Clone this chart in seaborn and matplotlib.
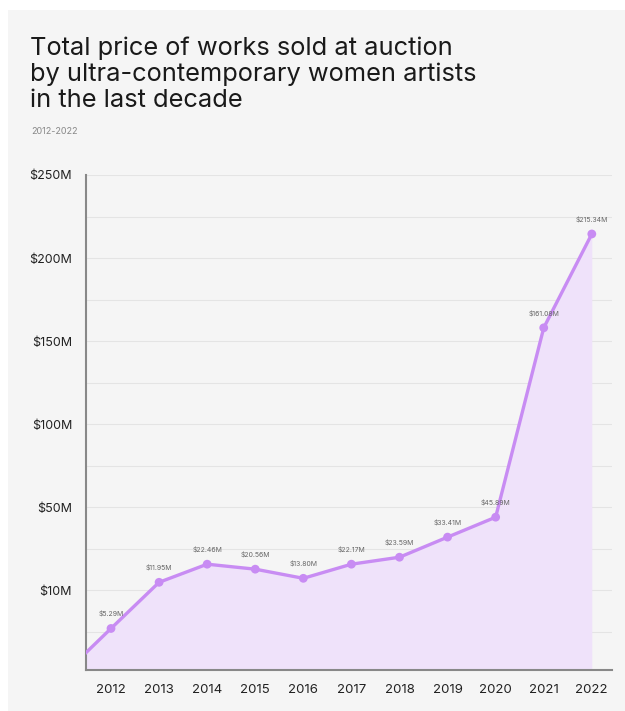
import matplotlib
matplotlib.use("Agg")
import matplotlib.pyplot as plt
import seaborn as sns
import pandas as pd
from matplotlib.patches import Rectangle

years = [2011, 2012, 2013, 2014, 2015, 2016, 2017, 2018, 2019, 2020, 2021, 2022]
values = [-51, -23, 4.8, 15.7, 12.7, 7.2, 15.7, 19.9, 32, 44, 158, 214.5]
point_labels = ["", "$5.29M", "$11.95M", "$22.46M", "$20.56M", "$13.80M", "$22.17M",
                "$23.59M", "$33.41M", "$45.89M", "$161.08M", "$215.34M"]
ytick_pos = [0, 50, 100, 150, 200, 250]
ytick_labels = ["$10M", "$50M", "$100M", "$150M", "$200M", "$250M"]
xtick_years = list(range(2012, 2023))

title = "Total price of works sold at auction\nby ultra-contemporary women artists\nin the last decade"
subtitle = "2012-2022"

sns.set_theme(style="white")
plt.rcParams['font.family'] = ['Inter', 'DejaVu Sans']

line_c = "#c88cf3"
fill_c = "#efe2fa"
bg = "#f5f5f5"

fig = plt.figure(figsize=(6.25, 7.11), dpi=100)
fig.patch.set_facecolor("white")
fig.patches.append(Rectangle((8/625, 0), 1, 1 - 10/711, transform=fig.transFigure,
                             facecolor=bg, edgecolor="none", zorder=-10))

ax = fig.add_axes([86/625, 41/711, 526/625, 495/711])
ax.set_facecolor(bg)

df = pd.DataFrame({"year": years, "value": values, "label": point_labels})
ymin = -48
ax.fill_between(df["year"], df["value"], ymin, color=fill_c, zorder=1, linewidth=0)
sns.lineplot(data=df, x="year", y="value", ax=ax, color=line_c, linewidth=2.4, zorder=3)
pts = df[df["year"] >= 2012]
sns.scatterplot(data=pts, x="year", y="value", ax=ax, color=line_c, s=40,
                edgecolor="none", zorder=4)
for _, r in pts.iterrows():
    ax.text(r["year"], r["value"] + 7, r["label"], ha="center", va="bottom",
            fontsize=5, color="#666666", zorder=5)

ax.set_xlim(2011.48, 2022.42)
ax.set_ylim(ymin, 250)
ax.set_yticks(ytick_pos)
ax.set_yticklabels(ytick_labels, fontsize=9, color="#222222")
ax.set_xticks(xtick_years)
ax.set_xticklabels([str(y) for y in xtick_years], fontsize=9.5, color="#222222")
ax.set_yticks(list(range(-25, 251, 25)), minor=True)
ax.grid(True, which="both", axis="y", color="#e4e4e4", linewidth=0.8, zorder=0)
ax.set_axisbelow(True)
ax.tick_params(axis="both", which="both", length=0)
ax.tick_params(axis="y", pad=10)
ax.tick_params(axis="x", pad=10)
ax.set_xlabel("")
ax.set_ylabel("")
for s in ["top", "right"]:
    ax.spines[s].set_visible(False)
for s in ["left", "bottom"]:
    ax.spines[s].set_color("#888888")
    ax.spines[s].set_linewidth(1.5)

fig.text(30/625, 1 - 37/711, title, fontsize=18.3, color="#1a1a1a", va="top", ha="left",
         linespacing=1.13)
fig.text(31/625, 1 - 127/711, subtitle, fontsize=6.5, color="#888888", va="top", ha="left")

fig.savefig("out.png", dpi=100, facecolor=fig.get_facecolor())
